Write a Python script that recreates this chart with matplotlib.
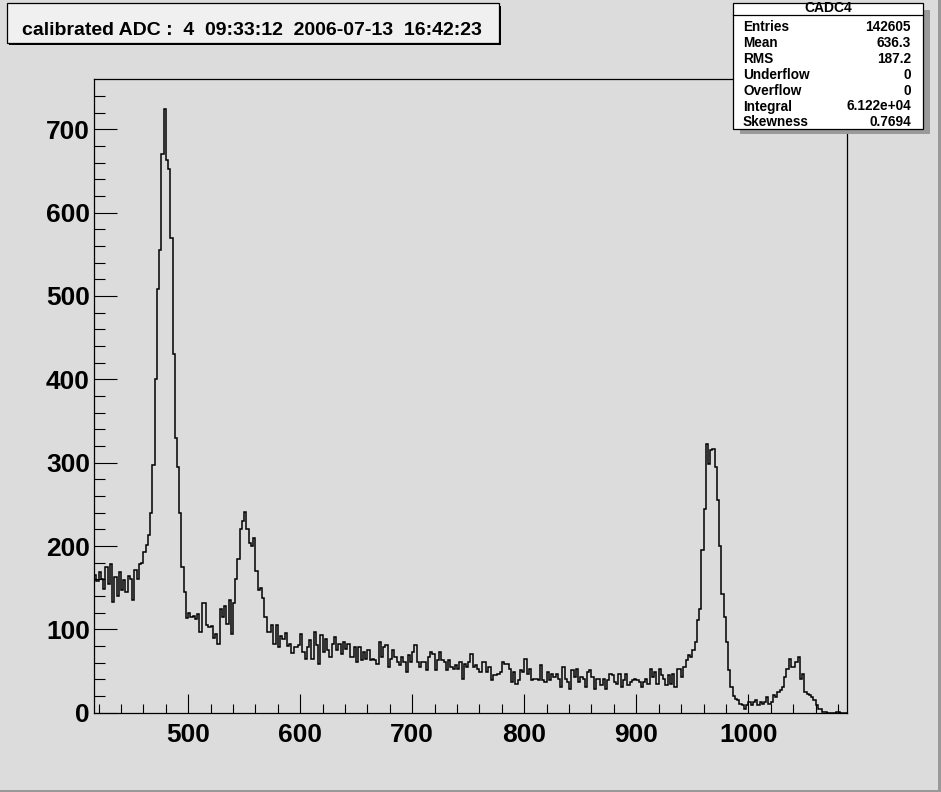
import numpy as np
import matplotlib
matplotlib.use('Agg')
import matplotlib.pyplot as plt
from matplotlib.patches import Rectangle
from matplotlib.lines import Line2D

# histogram: bins of 2 ADC units starting at 416
bin_lo = 416
bin_w = 2

# 416 - 498 : first photopeak
counts_peak1 = [165, 158, 169, 160, 149, 175, 155, 179, 133, 163,
                140, 169, 147, 159, 145, 164, 160, 135, 171, 160,
                178, 180, 193, 201, 213, 240, 297, 400, 508, 555,
                670, 724, 663, 652, 570, 430, 330, 295, 240, 175,
                145, 114]
# 500 - 592 : second bump
counts_peak2 = [120, 115, 116, 113, 118, 97, 132, 132, 105, 103,
                104, 90, 95, 82, 125, 115, 128, 107, 135, 95,
                132, 160, 185, 220, 230, 241, 220, 204, 200, 210,
                170, 147, 150, 138, 115, 97, 97, 105, 82, 105,
                79, 92, 88, 96, 80, 83, 72]
# 594 - 760 : continuum
counts_cont1 = [79, 79, 81, 95, 73, 65, 79, 87, 65, 97,
                81, 59, 93, 73, 89, 75, 67, 83, 91, 75,
                83, 71, 85, 77, 83, 67, 67, 79, 61, 79,
                63, 73, 65, 75, 63, 65, 63, 59, 85, 67,
                79, 81, 55, 65, 75, 67, 61, 57, 67, 61,
                49, 69, 61, 73, 81, 61, 55, 61, 61, 51,
                67, 73, 71, 51, 63, 73, 63, 61, 51, 63,
                55, 53, 57, 53, 61, 41, 59, 55, 61, 71,
                55, 57, 53, 49]
# 762 - 928 : continuum
counts_cont2 = [61, 61, 49, 55, 39, 45, 45, 47, 49, 61,
                59, 59, 53, 37, 49, 35, 39, 51, 49, 65,
                47, 53, 39, 41, 41, 39, 57, 39, 37, 49,
                39, 47, 43, 47, 41, 31, 55, 41, 37, 29,
                51, 43, 53, 37, 43, 41, 31, 49, 51, 43,
                29, 41, 41, 33, 41, 29, 39, 47, 45, 37,
                35, 47, 31, 39, 47, 33, 37, 39, 41, 39,
                37, 31, 37, 41, 35, 53, 43, 49, 35, 53,
                45, 41, 33, 45]
# 930 - 1086 : third and fourth peaks
counts_peak3 = [35, 47, 31, 53, 53, 43, 55, 63, 69, 67,
                75, 85, 111, 125, 195, 245, 323, 299, 315, 317,
                295, 255, 200, 143, 115, 85, 51, 31, 20, 17,
                15, 11, 9, 5, 9, 13, 9, 13, 15, 9,
                13, 11, 13, 19, 11, 13, 21, 19, 25, 27,
                31, 43, 53, 65, 55, 55, 61, 67, 41, 47,
                25, 23, 21, 19, 15, 9, 5, 5, 1, 1,
                0, 0, 0, 0, 1, 1, 0, 0, 0]

x_major = [500, 600, 700, 800, 900, 1000]
y_major = [0, 100, 200, 300, 400, 500, 600, 700]

title = "calibrated ADC :  4  09:33:12  2006-07-13  16:42:23"
stats_name = "CADC4"
stats_keys = ["Entries", "Mean", "RMS", "Underflow", "Overflow", "Integral", "Skewness"]
stats_vals = ["142605", "636.3", "187.2", "0", "0", "6.122e+04", "0.7694"]

W, H = 941, 792
bg = '#dcdcdc'
font = 'Liberation Sans'

counts = np.array(counts_peak1 + counts_peak2 + counts_cont1 + counts_cont2 + counts_peak3)
edges = bin_lo + bin_w * np.arange(len(counts) + 1)

fig = plt.figure(figsize=(W / 100, H / 100), dpi=100, facecolor=bg)
ax = fig.add_axes([0.1, 0.1, 0.8, 0.8], facecolor=bg)
ax.stairs(counts, edges, baseline=None, color='black', lw=1.1)
ax.set_xlim(416, 1088)
ax.set_ylim(0, 760)

ax.set_xticks(x_major)
ax.set_xticks(np.arange(420, 1088, 20), minor=True)
ax.set_yticks(y_major)
ax.set_yticks(np.arange(0, 760, 20), minor=True)
ax.tick_params(axis='x', which='major', direction='in', length=13.7, width=0.8, pad=7)
ax.tick_params(axis='x', which='minor', direction='in', length=6.8, width=0.8)
ax.tick_params(axis='y', which='major', direction='in', length=16.3, width=0.8, pad=3)
ax.tick_params(axis='y', which='minor', direction='in', length=8.1, width=0.8)
for lab in ax.get_xticklabels() + ax.get_yticklabels():
    lab.set_fontfamily(font)
    lab.set_fontweight('bold')
    lab.set_fontsize(19)
for s in ax.spines.values():
    s.set_linewidth(0.9)


def fx(x):
    return x / W


def fy(y):
    return 1 - y / H


def box(x0, y0, x1, y1, **kw):
    r = Rectangle((fx(x0), fy(y1)), fx(x1) - fx(x0), fy(y0) - fy(y1),
                  transform=fig.transFigure, **kw)
    fig.add_artist(r)


# title box
box(9, 6, 501, 45, facecolor='black', edgecolor='none', zorder=5)
box(6.7, 3.3, 499, 43, facecolor='#f0f0f0', edgecolor='black', lw=0.9, zorder=6)
fig.text(fx(252), fy(35), title, ha='center', va='baseline', fontsize=14,
         fontweight='bold', family=font, zorder=7)

# stats box
box(740, 10, 930, 134, facecolor='#9a9a9a', edgecolor='none', zorder=5)
box(733.3, 3.3, 922.7, 128.7, facecolor='white', edgecolor='black', lw=0.9, zorder=6)
fig.add_artist(Line2D([fx(733.3), fx(922.7)], [fy(14.5), fy(14.5)], transform=fig.transFigure,
                      color='black', lw=0.9, zorder=7))
fig.text(fx(828), fy(12), stats_name, ha='center', va='baseline', fontsize=10,
         fontweight='bold', family=font, zorder=7)
for i, (k, v) in enumerate(zip(stats_keys, stats_vals)):
    yb = 31 + 15.9 * i
    fig.text(fx(743), fy(yb), k, ha='left', va='baseline', fontsize=9.8,
             fontweight='bold', family=font, zorder=7)
    fig.text(fx(911), fy(yb), v, ha='right', va='baseline', fontsize=9.8,
             fontweight='bold', family=font, zorder=7)

# canvas bevel
box(938, 0, 941, 792, facecolor='#999999', edgecolor='none', zorder=8)
box(0, 790, 941, 792, facecolor='#999999', edgecolor='none', zorder=8)

fig.savefig('out.png', dpi=100, facecolor=bg)
